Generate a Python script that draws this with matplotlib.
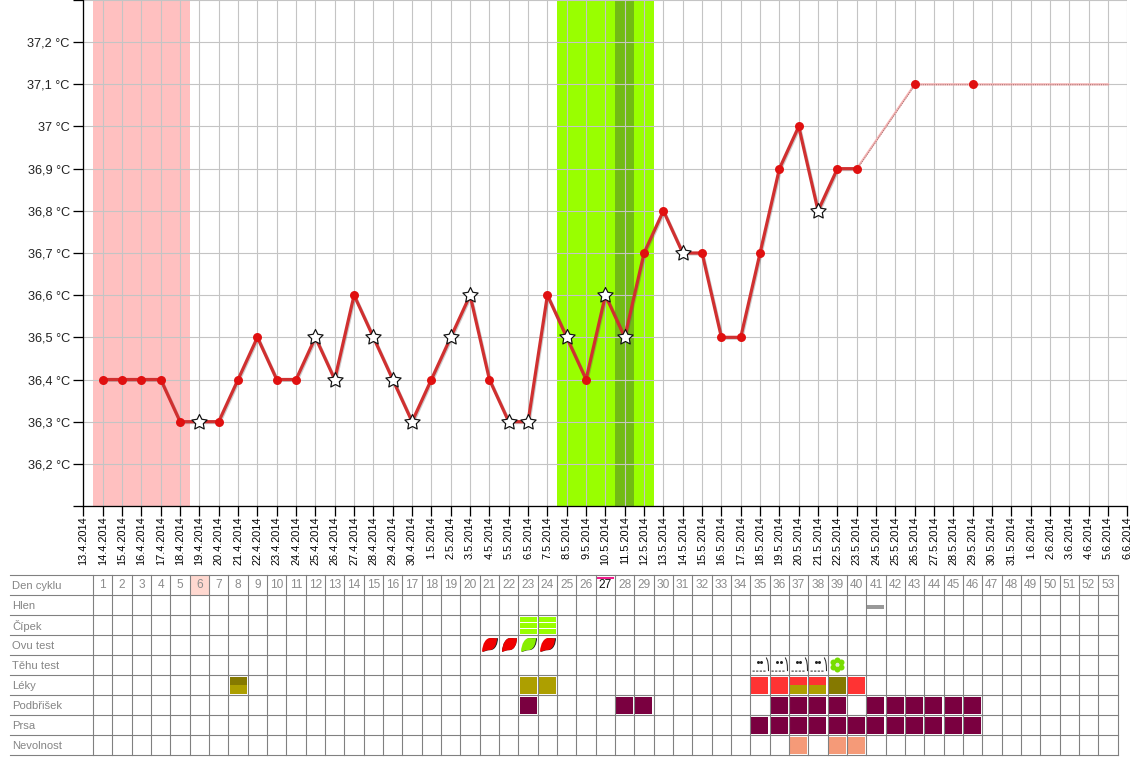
import numpy as np
import matplotlib
matplotlib.use("Agg")
import matplotlib.pyplot as plt
from matplotlib.path import Path
from matplotlib.transforms import offset_copy

plt.rcParams['font.family'] = ['Liberation Sans', 'DejaVu Sans']

# ---------- data ----------
dates = ["13.4.2014","14.4.2014","15.4.2014","16.4.2014","17.4.2014","18.4.2014","19.4.2014",
         "20.4.2014","21.4.2014","22.4.2014","23.4.2014","24.4.2014","25.4.2014","26.4.2014",
         "27.4.2014","28.4.2014","29.4.2014","30.4.2014","1.5.2014","2.5.2014","3.5.2014",
         "4.5.2014","5.5.2014","6.5.2014","7.5.2014","8.5.2014","9.5.2014","10.5.2014",
         "11.5.2014","12.5.2014","13.5.2014","14.5.2014","15.5.2014","16.5.2014","17.5.2014",
         "18.5.2014","19.5.2014","20.5.2014","21.5.2014","22.5.2014","23.5.2014","24.5.2014",
         "25.5.2014","26.5.2014","27.5.2014","28.5.2014","29.5.2014","30.5.2014","31.5.2014",
         "1.6.2014","2.6.2014","3.6.2014","4.6.2014","5.6.2014","6.6.2014"]

temps = [36.4,36.4,36.4,36.4,36.3,36.3,36.3,36.4,36.5,36.4,36.4,36.5,36.4,36.6,36.5,36.4,36.3,
         36.4,36.5,36.6,36.4,36.3,36.3,36.6,36.5,36.4,36.6,36.5,36.7,36.8,36.7,36.7,36.5,36.5,
         36.7,36.9,37.0,36.8,36.9,36.9]
star_days = [6,12,13,15,16,17,19,20,22,23,25,27,28,31,38]
late_days = [40,43,46,53]
late_temps = [36.9,37.1,37.1,37.1]
late_marked_days = [43,46]
late_marked_temps = [37.1,37.1]

y_ticks = [36.1,36.2,36.3,36.4,36.5,36.6,36.7,36.8,36.9,37.0,37.1,37.2,37.3]
y_labels = ["","36,2 °C","36,3 °C","36,4 °C","36,5 °C","36,6 °C","36,7 °C","36,8 °C","36,9 °C",
            "37 °C","37,1 °C","37,2 °C",""]

period_days = (1,5)
fertile_days = (25,29)
ovulation_day = 28

row_names = ["Den cyklu","Hlen","Čípek","Ovu test","Těhu test","Léky","Podbřišek","Prsa","Nevolnost"]
cycle_days = list(range(1,54))
today_cycle_day = 27
highlight_cycle_day = 6

hlen_days = [41]
cipek_days = [23,24]
ovu_neg = [21,22,24]
ovu_pos = [23]
tehu_neg = [35,36,37,38]
tehu_pos = [39]
leky_red = [35,36,40]
leky_olive = [23,24]
leky_dark = [39]
leky_red_olive = [37,38]
leky_dark_olive = [8]
podbrisek = [23,28,29,36,37,38,39,41,42,43,44,45,46]
prsa = [35,36,37,38,39,40,41,42,43,44,45,46]
nevolnost = [37,39,40]

# ---------- colours ----------
GRID = "#c4c4c4"; TAB = "#808080"; LINE = "#d03030"; DOT = "#e01010"
RED = "#ff3333"; OLIVE = "#ad9f00"; DARK = "#857900"; WINE = "#7a0040"; SALMON = "#f59a78"; LIME = "#99ff00"

W, H = 1140, 780
fig = plt.figure(figsize=(W/100, H/100), dpi=100, facecolor="white")
px = 0.72

# ---------- chart ----------
ax = fig.add_axes([83.4/W, (H-506)/H, 1044/W, 506/H])
n = len(dates)
ax.set_xlim(0, n-1)
ax.set_ylim(36.1, 37.3)
ax.axvspan(period_days[0]-.5, period_days[1]+.5, color="#ffc0c0", lw=0, zorder=1)
ax.axvspan(fertile_days[0]-.5, fertile_days[1]+.5, color=LIME, lw=0, zorder=1)
ax.axvspan(ovulation_day-.5, ovulation_day+.5, color="#72bb14", lw=0, zorder=1.1)
ax.set_axisbelow('line')
ax.grid(True, color=GRID, lw=1.1*px)
ax.set_xticks(range(n))
ax.set_xticklabels(dates, rotation=90, fontsize=7.9, color="black")
ax.set_yticks(y_ticks)
ax.set_yticklabels(y_labels, fontsize=9.2, color="#222222")
ax.tick_params(axis='both', length=10*px, width=1.3*px, color="black")
ax.tick_params(axis='x', pad=0.2)
ax.tick_params(axis='y', pad=2.6)
for s in ("top","right"):
    ax.spines[s].set_visible(False)
for s in ("left","bottom"):
    ax.spines[s].set_linewidth(1.3*px)

days = np.arange(1, len(temps)+1)
temps_a = np.array(temps)
ax.plot(days, temps_a, color="#555555", alpha=.3, lw=3*px,
        transform=offset_copy(ax.transData, fig=fig, x=1, y=-1, units='dots'), zorder=3)
ax.plot(days, temps_a, color=LINE, lw=3.2*px, zorder=3.1, solid_joinstyle='round')
# projected part
ax.plot(late_days, late_temps, color="#f6b4b4", lw=2.2*px, zorder=3)
ax.plot(late_days, late_temps, color="#a07070", lw=1*px, ls=(0,(1,1.2)), zorder=3.1,
        transform=offset_copy(ax.transData, fig=fig, x=0.4, y=-0.4, units='dots'))
plain = [d for d in days if d not in star_days]
ax.plot(plain, [temps[d-1] for d in plain], ls="", marker="o", ms=9*px, mfc=DOT, mec=DOT, mew=0, zorder=4)
ax.plot(late_marked_days, late_marked_temps, ls="", marker="o", ms=9*px, mfc=DOT, mec=DOT, mew=0, zorder=4)

# five-pointed star with a fuller body than the built-in one
a_out = np.deg2rad(90 + 72*np.arange(5))
a_in = a_out + np.deg2rad(36)
verts = np.empty((11, 2))
verts[0::2][:5] = np.c_[np.cos(a_out), np.sin(a_out)]
verts[1::2] = 0.5*np.c_[np.cos(a_in), np.sin(a_in)]
verts[10] = verts[0]
star = Path(verts, closed=True)
ax.plot(star_days, [temps[d-1] for d in star_days], ls="", marker=star, ms=16*px, mfc="white",
        mec="#111111", mew=1.2*px, zorder=5)

# ---------- table ----------
left, right, top, bottom = 10, 1117.5, 575, 755
day_px = 1044/(n-1)
tb = fig.add_axes([left/W, (H-bottom)/H, (right-left)/W, (bottom-top)/H])
tb.set_xlim(0.5-(93.17-left)/day_px, 53.5)
tb.set_ylim(len(row_names), 0)
tb.axis("off")
x0 = tb.get_xlim()[0]
for r in range(len(row_names)+1):
    tb.plot([x0, 53.5], [r, r], color=TAB, lw=1.1*px, clip_on=False, zorder=2)
for c in range(0, 54):
    tb.plot([c+.5, c+.5], [0, len(row_names)], color=TAB, lw=1.1*px, clip_on=False, zorder=2)
for r, name in enumerate(row_names):
    tb.text(x0+2/day_px, r+.56, name, color="#858585", fontsize=8.1, va="center", ha="left")
for d in cycle_days:
    tb.text(d, .52, str(d), ha="center", va="center", fontsize=8.6,
            color="#111111" if d == today_cycle_day else "#8c8c8c", zorder=3)

col_w = 17/day_px
row_h = 17/20
def cell(col, row, color, frac0=0.0, frac1=1.0):
    y0 = row + .075 + row_h*frac0
    tb.bar(col, row_h*(frac1-frac0), width=col_w, bottom=y0, color=color, lw=0, zorder=1)

tb.bar(highlight_cycle_day, 1, width=1, bottom=0, color="#ffd8d0", lw=0, zorder=1)
cell(today_cycle_day, 0, "#f01c8c", 0.0, 0.16)
for d in hlen_days:
    cell(d, 1, "#999999", 0.52, 0.76)
for d in cipek_days:
    cell(d, 2, LIME, 0.0, 0.30); cell(d, 2, LIME, 0.36, 0.66); cell(d, 2, LIME, 0.72, 1.0)
for d in leky_red: cell(d, 5, RED)
for d in leky_olive: cell(d, 5, OLIVE)
for d in leky_dark: cell(d, 5, DARK)
for d in leky_red_olive:
    cell(d, 5, RED, 0, .5); cell(d, 5, OLIVE, .5, 1)
for d in leky_dark_olive:
    cell(d, 5, DARK, 0, .5); cell(d, 5, OLIVE, .5, 1)
for d in podbrisek: cell(d, 6, WINE)
for d in prsa: cell(d, 7, WINE)
for d in nevolnost: cell(d, 8, SALMON)

# ovulation test icon (leaf glyph)
leaf = Path([(-1,-.85),(-.95,.3),(-.45,1.0),(.1,1.0),(.5,1.0),(.8,.9),(1,1),
             (1.0,.3),(.7,-.62),(-.05,-.62),(-.45,-.62),(-.75,-.8),(-1,-.85)],
            [1,4,4,4,4,4,4,4,4,4,4,4,4])
shadow = offset_copy(tb.transData, fig=fig, x=0.8, y=-0.8, units='dots')
tb.plot(ovu_neg+ovu_pos, [3.48]*(len(ovu_neg)+len(ovu_pos)), ls="", marker=leaf, ms=15*px, mfc="#222222", mew=0, transform=shadow, zorder=3)
tb.plot(ovu_neg, [3.48]*len(ovu_neg), ls="", marker=leaf, ms=15*px, mfc="#f00000", mew=0, zorder=4)
tb.plot(ovu_pos, [3.48]*len(ovu_pos), ls="", marker=leaf, ms=15*px, mfc="#88ee00", mew=0, zorder=4)

# pregnancy test icon: eyes, dashed base, curved side
base = Path([(-1,-.7),(-.72,-.7),(-.55,-.7),(-.27,-.7),(-.1,-.7),(.18,-.7),(.35,-.7),(.63,-.7),
             (.72,1),(.9,.55),(.98,0),(1,-.7)],[1,2,1,2,1,2,1,2,1,2,2,2])
tb.plot(tehu_neg, [4.5]*len(tehu_neg), ls="", marker=base, ms=16*px, mfc="none", mec="#222222", mew=1*px, zorder=4)
for off in (-2.0, 1.4):
    tb.plot(np.array(tehu_neg)+off/day_px, [4.36]*len(tehu_neg), ls="", marker="o", ms=3*px,
            mfc="#222222", mew=0, zorder=4)

# positive test icon: flower
ang = np.deg2rad([90,150,210,270,330,30])
for a in ang:
    tb.plot(np.array(tehu_pos)+4.6*np.cos(a)/day_px, [4.47-4.6*np.sin(a)/20]*len(tehu_pos), ls="", marker="o",
            ms=6*px, mfc="#77dd00", mew=0, zorder=4)
tb.plot(tehu_pos, [4.47]*len(tehu_pos), ls="", marker="o", ms=3.5*px, mfc="#dde8d0", mew=0, zorder=5)

fig.savefig("out.png", dpi=100, facecolor="white")
